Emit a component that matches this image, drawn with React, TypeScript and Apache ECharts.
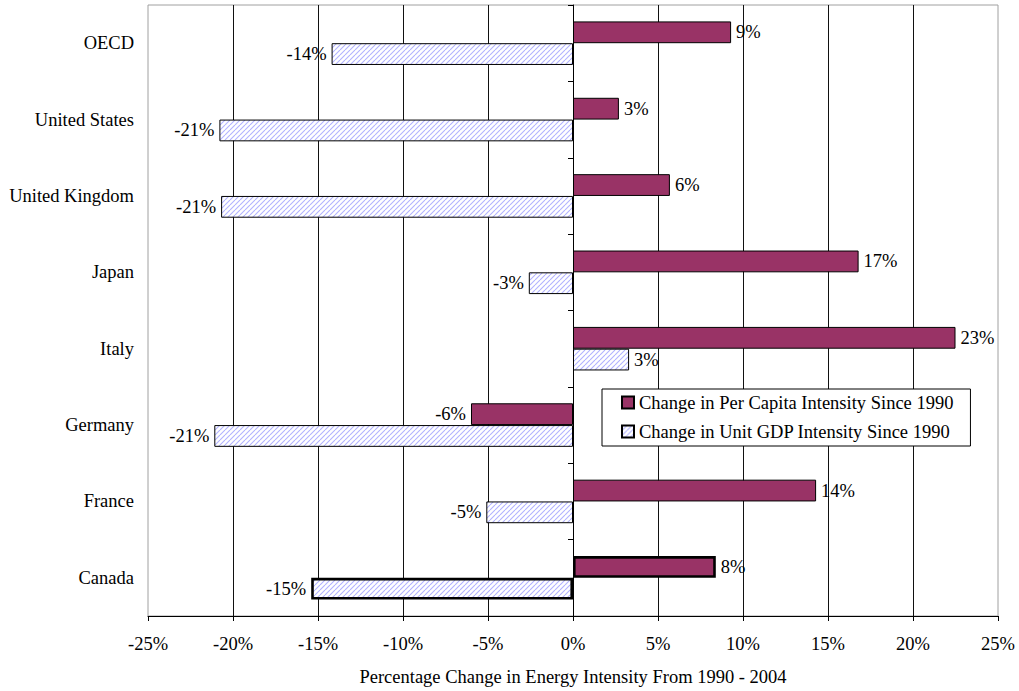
import React, { useEffect, useRef } from "react";
import * as echarts from "echarts";

// Categories listed bottom-to-top as they appear on the category axis
const countries = [
  "Canada",
  "France",
  "Germany",
  "Italy",
  "Japan",
  "United Kingdom",
  "United States",
  "OECD",
];

// Percentage change 1990-2004
const perCapitaChange = [8.4, 14.3, -6.0, 22.5, 16.8, 5.7, 2.7, 9.3];
const unitGdpChange = [-15.4, -5.1, -21.1, 3.3, -2.6, -20.7, -20.8, -14.2];

const xTicks = { min: -25, max: 25, interval: 5 };

const perCapitaName = "Change in Per Capita Intensity Since 1990";
const unitGdpName = "Change in Unit GDP Intensity Since 1990";
const axisTitle = "Percentage Change in Energy Intensity From 1990 - 2004";

// Index of the category whose bars are outlined heavier
const emphasizedIndex = 0;

const FONT = "'Liberation Serif', 'Times New Roman', serif";
const FS = 18.5;

function makeHatch(): HTMLCanvasElement {
  const size = 5;
  const c = document.createElement("canvas");
  c.width = size;
  c.height = size;
  const ctx = c.getContext("2d")!;
  ctx.fillStyle = "#ffffff";
  ctx.fillRect(0, 0, size, size);
  ctx.strokeStyle = "#b0b2ff";
  ctx.lineWidth = 1.1;
  for (const k of [-size, 0, size]) {
    ctx.beginPath();
    ctx.moveTo(k, size);
    ctx.lineTo(k + size, 0);
    ctx.stroke();
  }
  return c;
}

const fmt = (v: number) => `${Math.round(v)}%`;

function buildData(values: number[]) {
  return values.map((v, i) => ({
    value: v,
    itemStyle: i === emphasizedIndex ? { borderWidth: 2.6 } : undefined,
    label: { position: v < 0 ? "left" : "right" },
  }));
}

export default function App() {
  const ref = useRef<HTMLDivElement>(null);

  useEffect(() => {
    if (!ref.current) return;
    const chart = echarts.init(ref.current, undefined, { renderer: "svg" });
    const hatch = makeHatch();

    const labelStyle = {
      show: true,
      distance: 5,
      color: "#000",
      fontFamily: FONT,
      fontSize: FS,
      formatter: (p: any) => fmt(p.value),
    };

    chart.setOption({
      animation: false,
      backgroundColor: "#fff",
      textStyle: { fontFamily: FONT },
      grid: {
        left: 148,
        right: 21,
        top: 5,
        bottom: 75,
        show: true,
        borderColor: "#a0a0a0",
        borderWidth: 1,
        backgroundColor: "transparent",
      },
      legend: {
        data: [perCapitaName, unitGdpName],
        orient: "vertical",
        left: 602,
        top: 389,
        padding: [4, 17, 5, 19],
        itemGap: 10,
        itemWidth: 12,
        itemHeight: 12,
        icon: "rect",
        backgroundColor: "#fff",
        borderColor: "#000",
        borderWidth: 1,
        textStyle: { fontFamily: FONT, fontSize: FS, color: "#000" },
      },
      xAxis: {
        type: "value",
        min: xTicks.min,
        max: xTicks.max,
        interval: xTicks.interval,
        name: axisTitle,
        nameLocation: "middle",
        nameGap: 51,
        nameTextStyle: { fontFamily: FONT, fontSize: FS, color: "#000" },
        axisLine: { show: true, onZero: false, lineStyle: { color: "#000", width: 1 } },
        axisTick: { show: true, length: 5, lineStyle: { color: "#000" } },
        axisLabel: {
          margin: 18,
          fontFamily: FONT,
          fontSize: FS,
          color: "#000",
          formatter: (v: number) => `${v}%`,
        },
        splitLine: {
          show: true,
          showMinLine: false,
          showMaxLine: false,
          lineStyle: { color: "#111", width: 1 },
        },
      },
      yAxis: [
        {
          type: "category",
          data: countries,
          axisLine: { show: false, onZero: false },
          axisTick: { show: false },
          axisLabel: {
            margin: 14,
            fontFamily: FONT,
            fontSize: FS,
            color: "#000",
          },
          splitLine: { show: false },
        },
        {
          type: "category",
          data: countries,
          position: "left",
          axisLine: { show: true, onZero: true, lineStyle: { color: "#000", width: 1 } },
          axisTick: { show: true, length: 5, lineStyle: { color: "#000" } },
          axisLabel: { show: false },
          splitLine: { show: false },
        },
      ],
      series: [
        {
          name: perCapitaName,
          type: "bar",
          yAxisIndex: 0,
          barGap: "0%",
          barCategoryGap: "43%",
          data: buildData(perCapitaChange),
          itemStyle: {
            color: "#993366",
            borderColor: "#000",
            borderWidth: 1,
          },
          label: labelStyle,
        },
        {
          name: unitGdpName,
          type: "bar",
          yAxisIndex: 0,
          barGap: "0%",
          barCategoryGap: "43%",
          data: buildData(unitGdpChange),
          itemStyle: {
            color: { image: hatch, repeat: "repeat" },
            borderColor: "#000",
            borderWidth: 1,
          },
          label: labelStyle,
        },
      ],
    });

    return () => chart.dispose();
  }, []);

  return (
    <div
      ref={ref}
      style={{ position: "absolute", left: 0, top: 0, width: 1019, height: 691 }}
    />
  );
}
